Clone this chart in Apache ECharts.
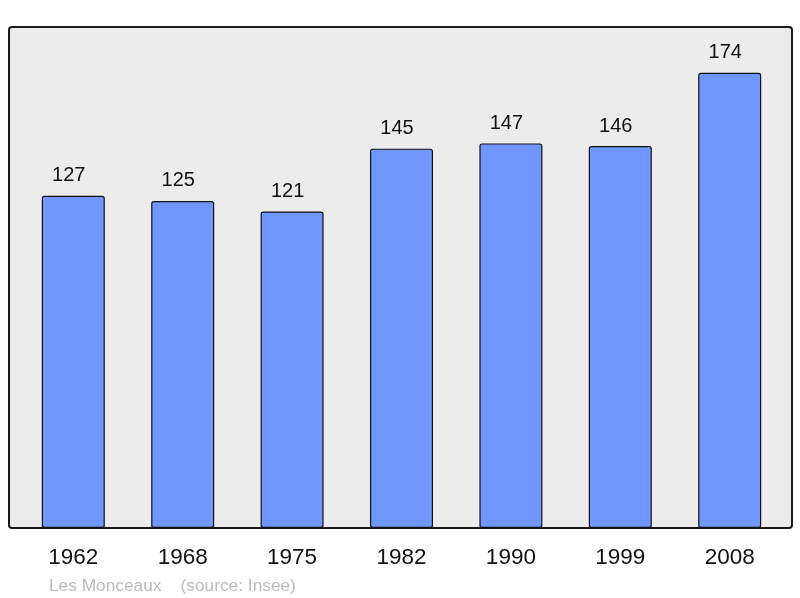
<!DOCTYPE html>
<html><head><meta charset="utf-8">
<script src="https://cdn.jsdelivr.net/npm/echarts@6/dist/echarts.min.js"></script>
<style>html,body{margin:0;padding:0;background:#fff}#c{width:800px;height:598px}</style>
</head><body><div id="c"></div>
<script>
const years = ['1962','1968','1975','1982','1990','1999','2008'];
const population = [127,125,121,145,147,146,174];
const sourceText = 'Les Monceaux    (source: Insee)';

const chart = echarts.init(document.getElementById('c'), null, {renderer:'canvas'});
chart.setOption({
  animation: false,
  backgroundColor: '#ffffff',
  textStyle: {fontFamily: 'Liberation Sans, Arial, sans-serif'},
  graphic: [
    {type:'rect', z:0, shape:{x:9, y:27, width:783, height:501, r:3},
     style:{fill:'#ececec', stroke:'#1a1a1a', lineWidth:2}},
    {type:'text', left:49, top:577.5, z:5,
     style:{text: sourceText, fill:'#bbbbbb', font:'17.3px "Liberation Sans", Arial, sans-serif'}}
  ],
  grid: {left:18.6, right:15.6, top:27, bottom:70, containLabel:false},
  xAxis: {
    type:'category', data: years,
    axisLine:{show:false}, axisTick:{show:false},
    axisLabel:{color:'#111', fontSize:22.5, margin:18, fontFamily:'Liberation Sans, Arial, sans-serif'}
  },
  yAxis: {type:'value', min:0, max:191.5, show:false, splitLine:{show:false}},
  series: [{
    type:'bar', data: population, barWidth:63, z:2,
    itemStyle:{color:'#7097ff', borderColor:'#111', borderWidth:1.2, borderRadius:2},
    label:{show:true, position:'top', distance:10, offset:[-4.5,0], color:'#111', fontSize:20,
      fontFamily:'Liberation Sans, Arial, sans-serif'}
  }]
});
</script></body></html>
